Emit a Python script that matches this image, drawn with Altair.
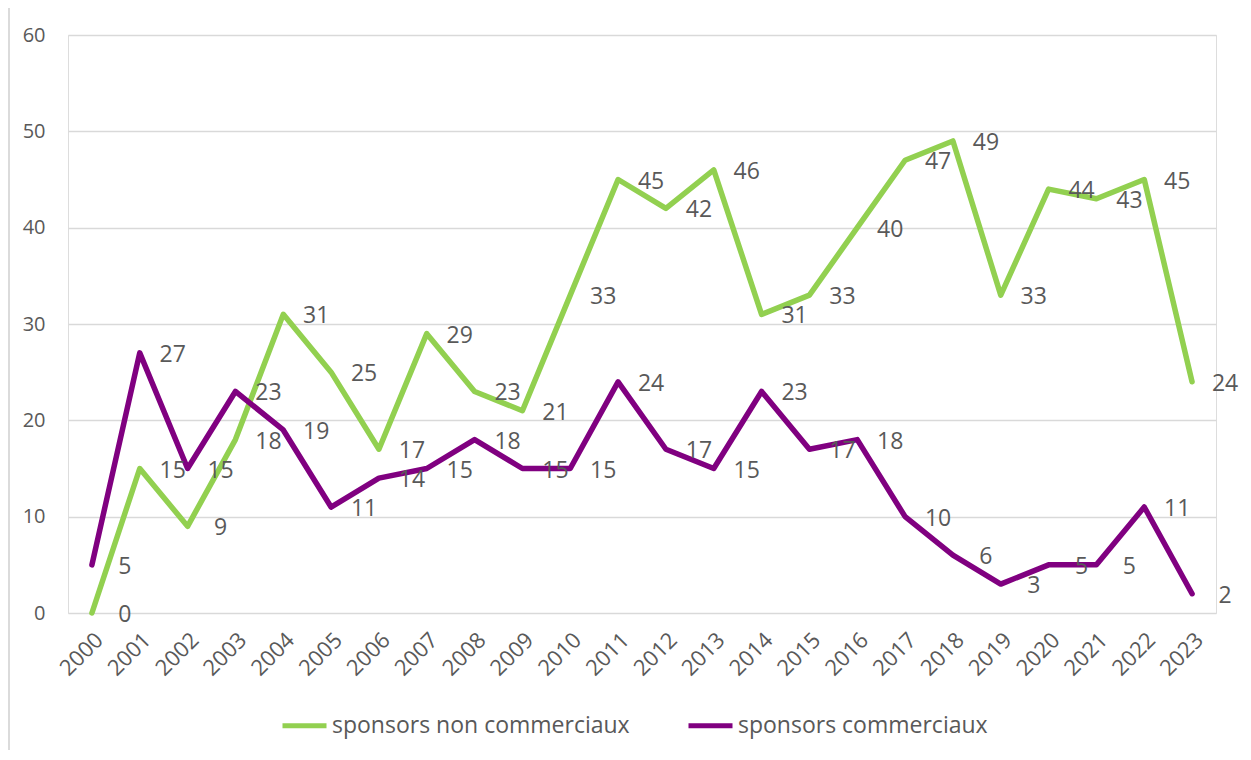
import altair as alt
import pandas as pd

years = [str(y) for y in range(2000, 2024)]
non_commerciaux = [0, 15, 9, 18, 31, 25, 17, 29, 23, 21, 33, 45, 42, 46, 31, 33, 40, 47, 49, 33, 44, 43, 45, 24]
commerciaux = [5, 27, 15, 23, 19, 11, 14, 15, 18, 15, 15, 24, 17, 15, 23, 17, 18, 10, 6, 3, 5, 5, 11, 2]
series_names = ["sponsors non commerciaux", "sponsors commerciaux"]
series_colors = ["#92D050", "#800080"]

rows = []
for name, vals in zip(series_names, [non_commerciaux, commerciaux]):
    for y, v in zip(years, vals):
        rows.append({"year": y, "value": v, "serie": name})
df = pd.DataFrame(rows)

FONT = "Open Sans"
GRAY = "#595959"

x_enc = alt.X("year:O", sort=years, scale=alt.Scale(padding=0.5),
              axis=alt.Axis(title=None, labelAngle=-45, labelFontSize=22, labelColor=GRAY,
                            labelFont=FONT, ticks=False, domain=False, labelPadding=16))
y_enc = alt.Y("value:Q", scale=alt.Scale(domain=[0, 60], nice=False),
              axis=alt.Axis(title=None, values=[0, 10, 20, 30, 40, 50, 60], labelFontSize=20,
                            labelColor=GRAY, labelFont=FONT, ticks=False, domain=False,
                            gridColor="#D9D9D9", gridWidth=1.5, labelPadding=23))
color_enc = alt.Color("serie:N", sort=series_names,
                      scale=alt.Scale(domain=series_names, range=series_colors),
                      legend=alt.Legend(title=None, orient="none", direction="horizontal",
                                        legendX=212, legendY=666, symbolType="stroke",
                                        symbolSize=1936, symbolStrokeWidth=5,
                                        labelFontSize=23, labelFont=FONT, labelColor=GRAY,
                                        labelOffset=3, columnPadding=48, labelLimit=500))

base = alt.Chart(df)

frame = alt.Chart(pd.DataFrame({"k": [0]})).mark_rect(
    fillOpacity=0, stroke="#D0D0D0", strokeWidth=1.5, clip=False
).encode(x=alt.value(-59), x2=alt.value(1300), y=alt.value(-29), y2=alt.value(800))

lines = base.mark_line(strokeWidth=5.5, strokeJoin="round", strokeCap="round").encode(
    x=x_enc, y=y_enc, color=color_enc, detail="serie:N"
)

labels = base.mark_text(dx=33, dy=2, fontSize=23, font=FONT, color=GRAY, align="center",
                        baseline="middle").encode(
    x=alt.X("year:O", sort=years), y="value:Q", text="value:Q", detail="serie:N"
)

chart = alt.layer(frame, lines, labels).properties(
    width=1148, height=578,
    autosize=alt.AutoSizeParams(type="none"),
    padding={"left": 60, "top": 27, "right": 27, "bottom": 137},
).configure_view(stroke=None).configure(background="white")

chart.save("out.html", embed_options={"renderer": "svg", "actions": False})
